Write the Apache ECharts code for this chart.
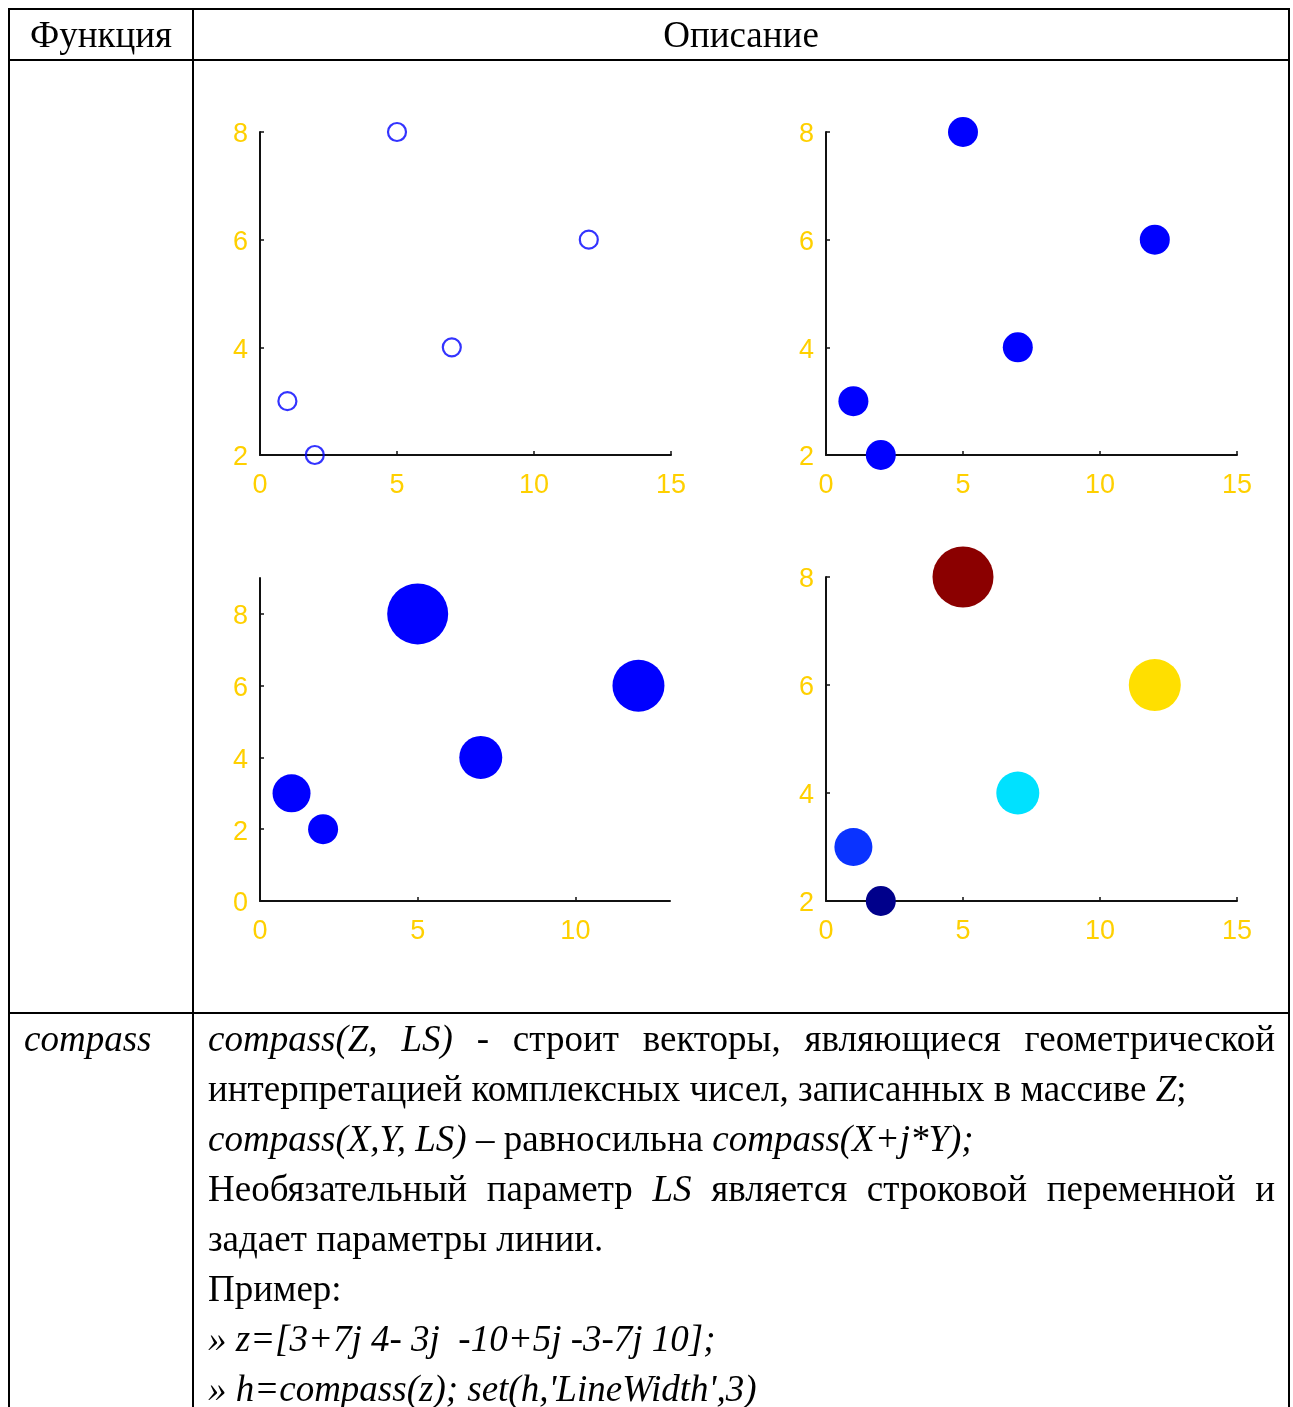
<!DOCTYPE html>
<html>
<head>
<meta charset="utf-8">
<script src="https://cdn.jsdelivr.net/npm/echarts@6/dist/echarts.min.js"></script>
<style>
  html, body { margin: 0; padding: 0; background: #fff; }
  body { width: 1293px; height: 1407px; position: relative; overflow: hidden;
         font-family: "Liberation Serif", "Times New Roman", serif; color: #000; }
  #chart { position: absolute; left: 0; top: 0; width: 1293px; height: 1407px; }
  .rule { position: absolute; background: #000; }
  .cell { position: absolute; display: flex; align-items: center; justify-content: center;
          font-size: 37px; }
  .txt { position: absolute; font-size: 37px; line-height: 50px; }
  .txt div { white-space: nowrap; }
  .txt div.j { white-space: normal; text-align: justify; text-align-last: justify; }
  i { font-style: italic; }
</style>
</head>
<body>
<div id="chart"></div>

<!-- table rules -->
<div class="rule" style="left:8px;top:8px;width:1282px;height:2px"></div>
<div class="rule" style="left:8px;top:8px;width:2px;height:1400px"></div>
<div class="rule" style="left:1288px;top:8px;width:2px;height:1400px"></div>
<div class="rule" style="left:192px;top:8px;width:2px;height:1400px"></div>
<div class="rule" style="left:8px;top:59px;width:1282px;height:2px"></div>
<div class="rule" style="left:8px;top:1012px;width:1282px;height:2px"></div>

<!-- header -->
<div class="cell" style="left:10px;top:10px;width:182px;height:49px">Функция</div>
<div class="cell" style="left:194px;top:10px;width:1094px;height:49px">Описание</div>

<!-- compass row -->
<div class="txt" style="left:24px;top:1014px"><i>compass</i></div>
<div class="txt" style="left:208px;top:1014px;width:1067px">
  <div class="j"><i>compass(Z, LS)</i> - строит векторы, являющиеся геометрической</div>
  <div>интерпретацией комплексных чисел, записанных в массиве <i>Z</i>;</div>
  <div><i>compass(X,Y, LS)</i> – равносильна <i>compass(X+j*Y);</i></div>
  <div class="j">Необязательный параметр <i>LS</i> является строковой переменной и</div>
  <div>задает параметры линии.</div>
  <div>Пример:</div>
  <div><i>» z=[3+7j 4- 3j &nbsp;-10+5j -3-7j 10];</i></div>
  <div><i>» h=compass(z); set(h,'LineWidth',3)</i></div>
</div>

<script>
// Sample points shared by all four scatter plots
const xValues = [1, 2, 5, 7, 12];
const yValues = [3, 2, 8, 4, 6];
// Per-point marker sizes for the sized scatter plots
const sizeValues = [38, 30, 61, 43, 52];
// Per-point colour values (mapped through a jet-like palette)
const colorValues = [3, 2, 8, 4, 6];

// Axis limits for each panel: [xMin, xMax, xStep, yMin, yMax, yStep]
const panelLimits = [
  [0, 15, 5, 2, 8, 2],
  [0, 15, 5, 2, 8, 2],
  [0, 13, 5, 0, 9, 2],
  [0, 15, 5, 2, 8, 2]
];

const jetColors = { 2: '#00008b', 3: '#0a33ff', 4: '#00e1ff', 6: '#ffdf00', 8: '#8b0000' };

const labelColor = '#ffd000';
const grids = [
  { left: 260, top: 132, width: 411, height: 323 },
  { left: 826, top: 132, width: 411, height: 323 },
  { left: 260, top: 578, width: 410, height: 323 },
  { left: 826, top: 577, width: 411, height: 324 }
];

function makeAxis(kind, idx, min, max, step) {
  const label = {
    color: labelColor, fontSize: 27, fontFamily: 'Liberation Sans',
    margin: kind === 'x' ? 17 : 12,
    showMaxLabel: (max % step === 0)
  };
  if (kind === 'y') {
    // nudge the vertical tick labels down so the digits sit centred on their ticks
    label.formatter = '{v|{value}}';
    label.rich = { v: { color: labelColor, fontSize: 27, fontFamily: 'Liberation Sans',
                        lineHeight: 27, padding: [6, 0, 0, 0] } };
  }
  return {
    type: 'value', gridIndex: idx, min: min, max: max, interval: step,
    splitLine: { show: false },
    axisLine: { show: true, onZero: false, lineStyle: { color: '#111', width: 2 } },
    axisTick: { show: true, inside: true, length: 4, lineStyle: { color: '#111', width: 1.5 } },
    axisLabel: label
  };
}

const points = xValues.map((x, i) => [x, yValues[i]]);

const series = [
  { type: 'scatter', xAxisIndex: 0, yAxisIndex: 0, clip: false, symbol: 'circle', symbolSize: 18,
    data: points,
    itemStyle: { color: 'rgba(0,0,0,0)', borderColor: '#0000ff', borderWidth: 2.2 } },
  { type: 'scatter', xAxisIndex: 1, yAxisIndex: 1, clip: false, symbol: 'circle', symbolSize: 30,
    data: points, itemStyle: { color: '#0000ff', opacity: 1 } },
  { type: 'scatter', xAxisIndex: 2, yAxisIndex: 2, clip: false, symbol: 'circle',
    data: points.map((p, i) => ({ value: p, symbolSize: sizeValues[i] })),
    itemStyle: { color: '#0000ff', opacity: 1 } },
  { type: 'scatter', xAxisIndex: 3, yAxisIndex: 3, clip: false, symbol: 'circle',
    data: points.map((p, i) => ({ value: p, symbolSize: sizeValues[i],
      itemStyle: { color: jetColors[colorValues[i]] } })),
    itemStyle: { opacity: 1 } }
];

const chart = echarts.init(document.getElementById('chart'), null, { renderer: 'canvas' });
chart.setOption({
  animation: false,
  backgroundColor: '#fff',
  grid: grids,
  xAxis: panelLimits.map((l, i) => makeAxis('x', i, l[0], l[1], l[2])),
  yAxis: panelLimits.map((l, i) => makeAxis('y', i, l[3], l[4], l[5])),
  series: series
});
</script>
</body>
</html>
